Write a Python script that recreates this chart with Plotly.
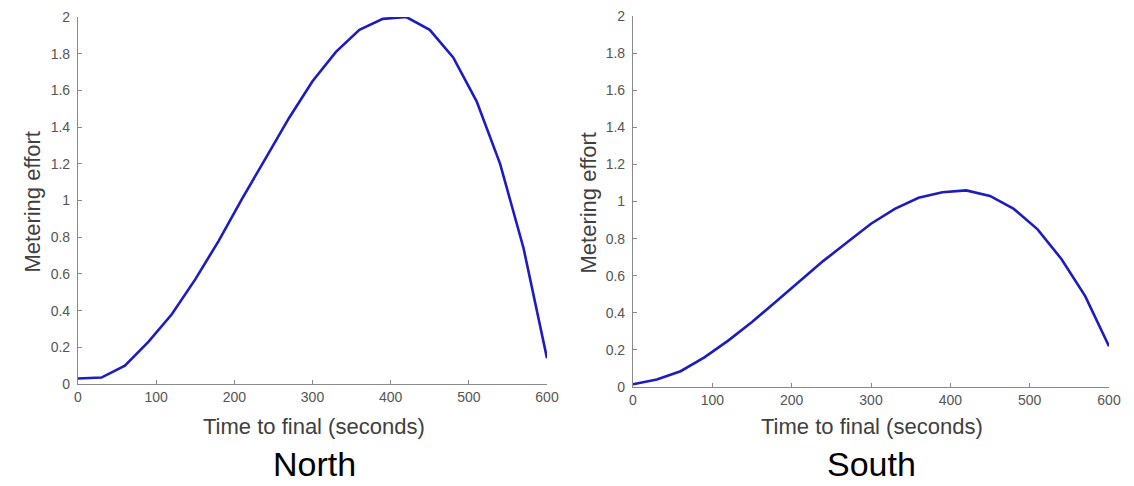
import plotly.graph_objects as go

time_s = [0, 30, 60, 90, 120, 150, 180, 210, 240, 270, 300, 330, 360, 390, 420, 450, 480, 510, 540, 570, 600]
north_effort = [0.03, 0.035, 0.10, 0.23, 0.38, 0.57, 0.78, 1.01, 1.23, 1.45, 1.65, 1.81, 1.93, 1.99, 2.0, 1.93, 1.78, 1.54, 1.20, 0.74, 0.14]
south_effort = [0.015, 0.04, 0.085, 0.16, 0.25, 0.35, 0.46, 0.57, 0.68, 0.78, 0.88, 0.96, 1.02, 1.05, 1.06, 1.03, 0.96, 0.85, 0.69, 0.49, 0.22]
x_ticks = [0, 100, 200, 300, 400, 500, 600]
y_ticks = [0, 0.2, 0.4, 0.6, 0.8, 1, 1.2, 1.4, 1.6, 1.8, 2]
panel_titles = ["North", "South"]
x_title = "Time to final (seconds)"
y_title = "Metering effort"

# page body has an 8px default margin; figure sized to fit the window
OFF = 8
W, H = 1134 - OFF, 486 - OFF
line_color = "#1c1cc0"
axis_color = "#8a8a8a"
tick_font = dict(family="Liberation Sans, Arial, sans-serif", size=14, color="#555555")
title_font = dict(family="Liberation Sans, Arial, sans-serif", size=22, color="#404040")

fig = go.Figure()
fig.add_trace(go.Scatter(x=time_s, y=north_effort, mode="lines",
                         line=dict(color=line_color, width=2.6), xaxis="x", yaxis="y",
                         showlegend=False, hoverinfo="x+y"))
fig.add_trace(go.Scatter(x=time_s, y=south_effort, mode="lines",
                         line=dict(color=line_color, width=2.6), xaxis="x2", yaxis="y2",
                         showlegend=False, hoverinfo="x+y"))

def px_x(p):
    return (p - OFF) / W

def px_y(p):
    return 1 - (p - OFF) / H

common_x = dict(range=[0, 600], tickvals=x_ticks, ticks="inside", ticklen=4,
                tickcolor=axis_color, showline=True, linecolor=axis_color, linewidth=1.2,
                showgrid=False, zeroline=False, tickfont=tick_font, fixedrange=True,
                automargin=False, ticklabeloverflow="allow")
common_y = dict(range=[0, 2], tickvals=y_ticks, ticks="inside", ticklen=4,
                tickcolor=axis_color, showline=True, linecolor=axis_color, linewidth=1.2,
                showgrid=False, zeroline=False, tickfont=tick_font, fixedrange=True,
                ticklabelstandoff=4, automargin=False, ticklabeloverflow="allow")

# panel pixel boxes in page coordinates: (left, right, top, bottom)
boxes = [(78, 547, 17, 384), (633, 1109, 16, 387)]
ytitle_x = [32, 588]

fig.update_layout(
    width=W, height=H,
    margin=dict(l=0, r=0, t=0, b=0, autoexpand=False),
    paper_bgcolor="white", plot_bgcolor="white",
    xaxis=dict(common_x, domain=[px_x(boxes[0][0]), px_x(boxes[0][1])], anchor="y"),
    yaxis=dict(common_y, domain=[px_y(boxes[0][3]), px_y(boxes[0][2])], anchor="x"),
    xaxis2=dict(common_x, domain=[px_x(boxes[1][0]), px_x(boxes[1][1])], anchor="y2"),
    yaxis2=dict(common_y, domain=[px_y(boxes[1][3]), px_y(boxes[1][2])], anchor="x2"),
)

annotations = []
for i, (l, r, t, b) in enumerate(boxes):
    cx = (l + r) / 2
    annotations.append(dict(text=x_title, x=px_x(cx + 1), y=px_y(426), xref="paper", yref="paper",
                            xanchor="center", yanchor="middle", showarrow=False, font=title_font))
    annotations.append(dict(text=y_title, x=px_x(ytitle_x[i]), y=px_y((t + b) / 2 + 2), xref="paper",
                            yref="paper", xanchor="center", yanchor="middle", showarrow=False,
                            textangle=-90, font=title_font))
    annotations.append(dict(text=panel_titles[i], x=px_x(cx + (2 if i == 0 else 0)), y=px_y(464),
                            xref="paper", yref="paper", xanchor="center", yanchor="middle",
                            showarrow=False,
                            font=dict(family="Liberation Sans, Arial, sans-serif", size=34, color="black")))
fig.update_layout(annotations=annotations)

fig.write_html("out.html")
